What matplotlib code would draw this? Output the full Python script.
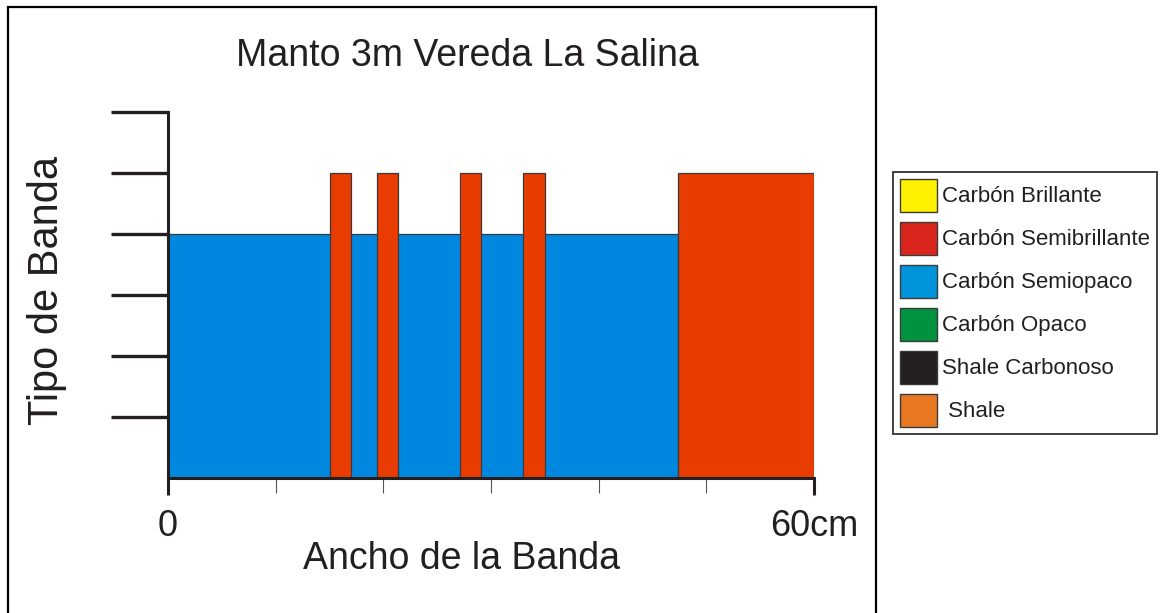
import matplotlib
matplotlib.use("Agg")
import matplotlib.pyplot as plt
from matplotlib.patches import Patch, Rectangle
from matplotlib import font_manager

# ---------------- data ----------------
title = "Manto 3m Vereda La Salina"
x_label = "Ancho de la Banda"
y_label = "Tipo de Banda"
x_max = 60
x_tick_major = [0, 60]
x_tick_major_labels = ["0", "60cm"]
x_tick_minor = [10, 20, 30, 40, 50]
y_levels = [1, 2, 3, 4, 5, 6]

legend_labels = ["Carbón Brillante", "Carbón Semibrillante", "Carbón Semiopaco",
                 "Carbón Opaco", "Shale Carbonoso", " Shale"]
legend_colors = ["#FFF200", "#DA251D", "#0095DA", "#00923F", "#231F20", "#E87722"]

# Carbón Semiopaco bands (start cm, width cm, level)
semiopaco_start = [0.0]
semiopaco_width = [47.4]
semiopaco_level = [4]
# Carbón Semibrillante bands
semibrillante_start = [15.0, 19.4, 27.1, 33.0, 47.4]
semibrillante_width = [2.0, 2.0, 2.0, 2.0, 12.6]
semibrillante_level = [5, 5, 5, 5, 5]

blue = "#0088E0"
red = "#E83C00"
dark = "#231F20"

# ---------------- font ----------------
avail = {f.name for f in font_manager.fontManager.ttflist}
if "Liberation Sans Narrow" in avail:
    fam = ["Liberation Sans Narrow", "DejaVu Sans"]
else:
    fam = ["Liberation Sans", "DejaVu Sans"]
plt.rcParams["font.family"] = fam

W, H = 1164, 613
fig = plt.figure(figsize=(W / 100, H / 100), dpi=100)
ax = fig.add_axes([168 / W, 1 - 478 / H, 646 / W, (478 - 112) / H])

ax.bar(semiopaco_start, semiopaco_level, width=semiopaco_width, align="edge",
       color=blue, edgecolor="#3a3a3a", linewidth=0.9, zorder=2)
ax.bar(semibrillante_start, semibrillante_level, width=semibrillante_width, align="edge",
       color=red, edgecolor="#3a3a3a", linewidth=0.9, zorder=3)

ax.set_xlim(0, x_max)
ax.set_ylim(0, max(y_levels))
ax.spines["top"].set_visible(False)
ax.spines["right"].set_visible(False)
for s in ("left", "bottom"):
    ax.spines[s].set_linewidth(2.2)
    ax.spines[s].set_color(dark)
    ax.spines[s].set_zorder(5)

ax.set_yticks(y_levels)
ax.set_yticklabels([""] * len(y_levels))
ax.tick_params(axis="y", length=41, width=2.4, color=dark, direction="out")

ax.set_xticks(x_tick_major)
ax.set_xticklabels(x_tick_major_labels, fontsize=26, color=dark)
ax.set_xticks(x_tick_minor, minor=True)
ax.tick_params(axis="x", which="major", length=12, width=2.2, color=dark, pad=10)
ax.tick_params(axis="x", which="minor", length=11, width=0.8, color="#555555")

ax.set_xlabel(x_label, fontsize=27, color=dark)
ax.xaxis.set_label_coords(0.455, -0.171)
ax.set_ylabel(y_label, fontsize=30, color=dark)
ax.yaxis.set_label_coords(-0.157, 0.511)

fig.text(467 / W, 1 - 56 / H, title, fontsize=27, color=dark,
         ha="center", va="center")

# outer frame
fig.add_artist(Rectangle((8 / W, -0.02), 868 / W, 1 - 7 / H + 0.02,
                         transform=fig.transFigure, fill=False,
                         edgecolor="black", linewidth=1.6))

handles = [Patch(facecolor=c, edgecolor="#3a3a3a", linewidth=1.0) for c in legend_colors]
fs = 16
leg = fig.legend(handles, legend_labels, loc="upper left",
                 bbox_to_anchor=(893 / W, 1 - 172 / H), bbox_transform=fig.transFigure,
                 fontsize=fs, frameon=True, fancybox=False, shadow=False,
                 handlelength=1.67, handleheight=1.91, handletextpad=0.25,
                 labelspacing=0.45, borderpad=0.3, borderaxespad=0.0)
leg.get_frame().set_edgecolor("black")
leg.get_frame().set_linewidth(1.3)
for t in leg.get_texts():
    t.set_color(dark)

fig.savefig("out.png", dpi=100)
